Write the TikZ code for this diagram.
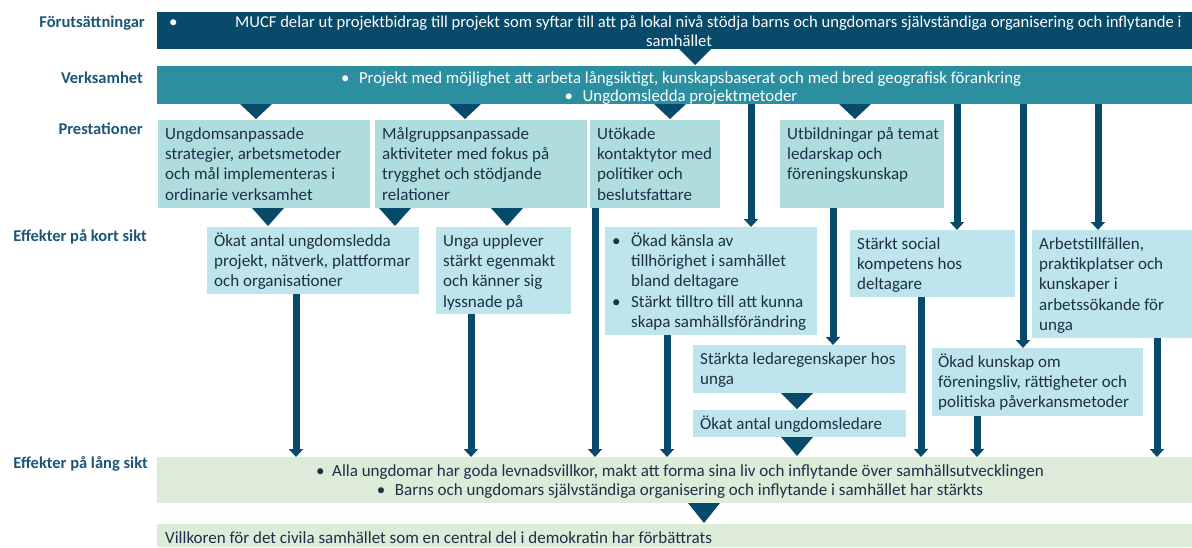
\documentclass[tikz,border=0pt]{standalone}
\usepackage{fontspec}
\setmainfont{Carlito}
\usetikzlibrary{arrows.meta,calc}
\definecolor{navy}{HTML}{074A6A}
\definecolor{tealb}{HTML}{2B8FA0}
\definecolor{prestc}{HTML}{AFDDDD}
\definecolor{shortc}{HTML}{BEE4EC}
\definecolor{longc}{HTML}{DDEBD9}
\definecolor{labc}{HTML}{1C5578}
\definecolor{txtc}{HTML}{1D3047}
\newcommand\fs{\fontsize{17}{20.3}\selectfont}
\newcommand\trix[3]{\fill[navy] ($(#2.south -| #1)+(-16,0)$) -- ($(#2.south -| #1)+(16,0)$) -- ($(#3.north -| #1)+(0,-1)$) -- cycle;}
\begin{document}
\begin{tikzpicture}[x=1pt,y=-1pt,
  boxs/.style={anchor=north west, inner sep=0pt, outer sep=0pt, draw=none},
  txt/.style={anchor=north west, inner sep=0pt, align=left, font=\fs, text=txtc},
  lab/.style={anchor=base east, inner sep=0pt, font=\fontsize{16.5}{20}\selectfont\bfseries, text=labc},
  flowbar/.style={draw=navy, line width=7pt, -{Triangle[length=8pt,width=14pt]}},
]
\useasboundingbox (0,0) rectangle (1192,547);

% row labels
\node[lab] (l-for) at (145,27) {Förutsättningar};
\node[lab] (l-verk) at (143,83) {Verksamhet};
\node[lab] (l-prest) at (143,134) {Prestationer};
\node[lab] (l-kort) at (147,241) {Effekter på kort sikt};
\node[lab] (l-lang) at (148,468) {Effekter på lång sikt};

% boxes
\node[boxs, fill=navy, minimum width=1035pt, minimum height=37pt] (b1) at (157,12) {};
\node[boxs, fill=tealb, minimum width=1035pt, minimum height=38pt] (b2) at (157,66) {};
\node[boxs, fill=prestc, minimum width=212pt, minimum height=88pt] (p1) at (158,120) {};
\node[boxs, fill=prestc, minimum width=212pt, minimum height=88pt] (p2) at (375,120) {};
\node[boxs, fill=prestc, minimum width=130pt, minimum height=88pt] (p3) at (590,120) {};
\node[boxs, fill=prestc, minimum width=164pt, minimum height=88pt] (p4) at (780,120) {};
\node[boxs, fill=shortc, minimum width=212pt, minimum height=67pt] (s1) at (207,227) {};
\node[boxs, fill=shortc, minimum width=135pt, minimum height=87pt] (s2) at (436,227) {};
\node[boxs, fill=shortc, minimum width=212pt, minimum height=108pt] (s3) at (605,227) {};
\node[boxs, fill=shortc, minimum width=165pt, minimum height=67pt] (s4) at (850,230) {};
\node[boxs, fill=shortc, minimum width=160pt, minimum height=108pt] (s5) at (1032,230) {};
\node[boxs, fill=shortc, minimum width=213pt, minimum height=48pt] (s6) at (693,345) {};
\node[boxs, fill=shortc, minimum width=213pt, minimum height=27pt] (s7) at (693,410) {};
\node[boxs, fill=shortc, minimum width=211pt, minimum height=68pt] (s8) at (932,348) {};
\node[boxs, fill=longc, minimum width=1035pt, minimum height=46pt] (l1) at (157,457) {};
\node[boxs, fill=longc, minimum width=1035pt, minimum height=23pt] (l2) at (157,524) {};

% texts
\node[anchor=base west, inner sep=0pt, font=\fs, text=white] (b1b) at (169,27) {•};
\node[anchor=base west, inner sep=0pt, font=\fontsize{16.6}{20}\selectfont, text=white] (b1t1) at (235,27) {MUCF delar ut projektbidrag till projekt som syftar till att på lokal nivå stödja barns och ungdomars självständiga organisering och inflytande i};
\node[anchor=base west, inner sep=0pt, font=\fontsize{16.6}{20}\selectfont, text=white] (b1t2) at (646,46.7) {samhället};
\node[anchor=north, inner sep=0pt, align=center, font=\fontsize{16.8}{18}\selectfont, text=white] (b2t) at (681,70.4)
  {\strut\makebox[18pt][l]{•}Projekt med möjlighet att arbeta långsiktigt, kunskapsbaserat och med bred geografisk förankring\\
   \makebox[18pt][l]{•}Ungdomsledda projektmetoder};

\node[txt] (p1t) at ([xshift=7pt,yshift=-4.8pt]p1.north west) {\strut Ungdomsanpassade\\strategier, arbetsmetoder\\och mål implementeras i\\ordinarie verksamhet};
\node[txt] (p2t) at ([xshift=7pt,yshift=-4.8pt]p2.north west) {\strut Målgruppsanpassade\\aktiviteter med fokus på\\trygghet och stödjande\\relationer};
\node[txt] (p3t) at ([xshift=7pt,yshift=-4.8pt]p3.north west) {\strut Utökade\\kontaktytor med\\politiker och\\beslutsfattare};
\node[txt] (p4t) at ([xshift=7pt,yshift=-4.8pt]p4.north west) {\strut Utbildningar på temat\\ledarskap och\\föreningskunskap};
\node[txt] (s1t) at ([xshift=7pt,yshift=-4.8pt]s1.north west) {\strut Ökat antal ungdomsledda\\projekt, nätverk, plattformar\\och organisationer};
\node[txt] (s2t) at ([xshift=7pt,yshift=-4.8pt]s2.north west) {\strut Unga upplever\\stärkt egenmakt\\och känner sig\\lyssnade på};
\node[txt] (s3t) at ([xshift=7pt,yshift=-4.8pt]s3.north west) {\strut\makebox[19pt][l]{•}Ökad känsla av\\\hspace*{19pt}tillhörighet i samhället\\\hspace*{19pt}bland deltagare\\\makebox[19pt][l]{•}Stärkt tilltro till att kunna\\\hspace*{19pt}skapa samhällsförändring};
\node[txt] (s4t) at ([xshift=7pt,yshift=-4.8pt]s4.north west) {\strut Stärkt social\\kompetens hos\\deltagare};
\node[txt] (s5t) at ([xshift=7pt,yshift=-4.8pt]s5.north west) {\strut Arbetstillfällen,\\praktikplatser och\\kunskaper i\\arbetssökande för\\unga};
\node[txt] (s6t) at ([xshift=7pt,yshift=-4.8pt]s6.north west) {\strut Stärkta ledaregenskaper hos\\unga};
\node[txt] (s7t) at ([xshift=7pt,yshift=-4.8pt]s7.north west) {\strut Ökat antal ungdomsledare};
\node[txt] (s8t) at ([xshift=6pt,yshift=-4.8pt]s8.north west) {\strut Ökad kunskap om\\föreningsliv, rättigheter och\\politiska påverkansmetoder};
\node[anchor=north, inner sep=0pt, align=center, font=\fontsize{17}{19}\selectfont, text=txtc] (l1t) at (680,462.7)
  {\strut\makebox[16pt][l]{•}Alla ungdomar har goda levnadsvillkor, makt att forma sina liv och inflytande över samhällsutvecklingen\\
   \makebox[18pt][l]{•}Barns och ungdomars självständiga organisering och inflytande i samhället har stärkts};
\node[anchor=base west, inner sep=0pt, font=\fs, text=txtc] (l2t) at (165,543) {Villkoren för det civila samhället som en central del i demokratin har förbättrats};

% x positions
\foreach \xx in {256,268,296,395,465,471,507,595,667,670,695,704,751,797,833,855,921,957,977,1023,1098,1157}
  \coordinate (X\xx) at (\xx,0);

% triangles
\trix{X695}{b1}{b2}
\trix{X256}{b2}{p1}
\trix{X465}{b2}{p2}
\trix{X670}{b2}{p3}
\trix{X855}{b2}{p4}
\trix{X268}{p1}{s1}
\trix{X395}{p2}{s1}
\trix{X507}{p2}{s2}
\trix{X797}{s6}{s7}
\trix{X797}{s7}{l1}
\trix{X704}{l1}{l2}

% bars
\draw[flowbar] (X296 |- s1.south) -- (X296 |- l1.north);
\draw[flowbar] (X471 |- s2.south) -- (X471 |- l1.north);
\draw[flowbar] (X595 |- p3.south) -- (X595 |- l1.north);
\draw[flowbar] (X667 |- s3.south) -- (X667 |- l1.north);
\draw[flowbar] (X751 |- b2.south) -- (X751 |- s3.north);
\draw[flowbar] (X833 |- p4.south) -- (X833 |- s6.north);
\draw[flowbar] (X957 |- b2.south) -- (X957 |- s4.north);
\draw[flowbar] (X1023 |- b2.south) -- (X1023 |- s8.north);
\draw[flowbar] (X1098 |- b2.south) -- (X1098 |- s5.north);
\draw[flowbar] (X921 |- s4.south) -- (X921 |- l1.north);
\draw[flowbar] (X977 |- s8.south) -- (X977 |- l1.north);
\draw[flowbar] (X1157 |- s5.south) -- (X1157 |- l1.north);
\end{tikzpicture}
\end{document}
